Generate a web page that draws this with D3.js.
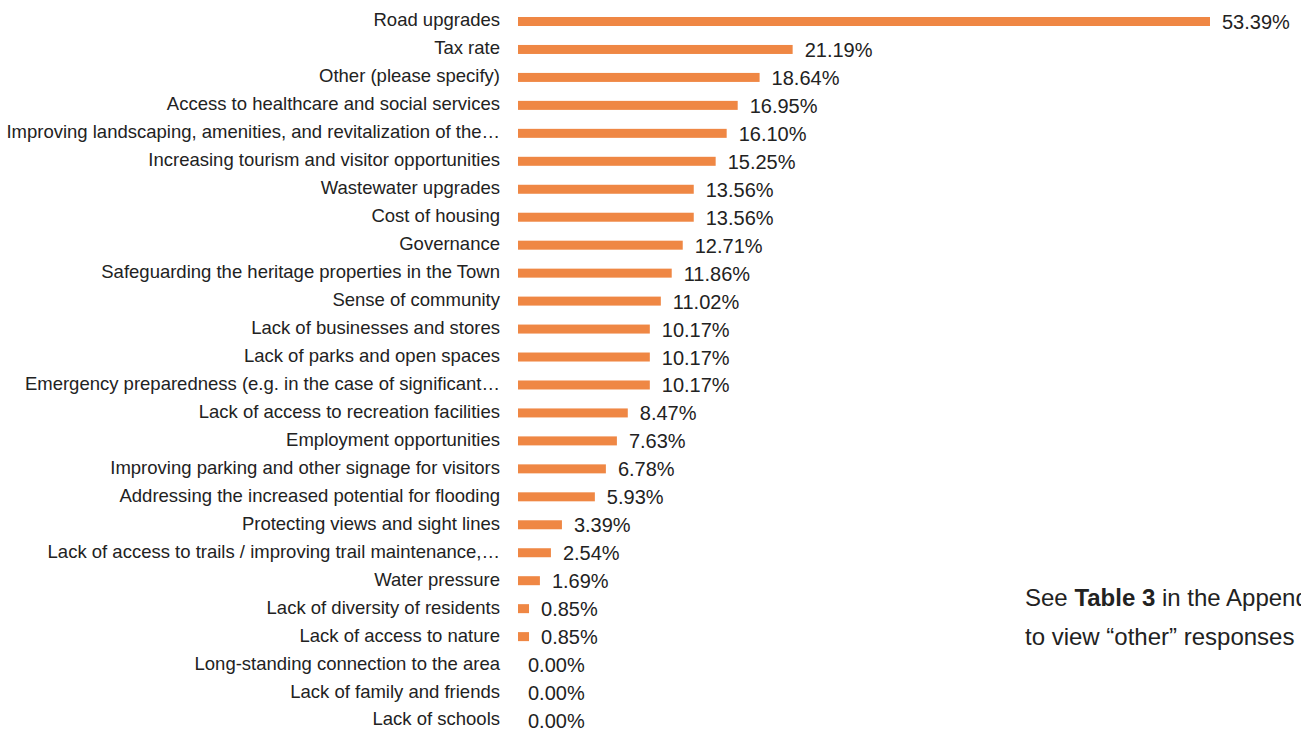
<!DOCTYPE html>
<html>
<head>
<meta charset="utf-8">
<script src="https://cdn.jsdelivr.net/npm/d3@7"></script>
<style>
  body { margin: 0; background: #fff; }
  svg { display: block; font-family: "Liberation Sans", Arial, sans-serif; }
</style>
</head>
<body>
<div id="chart"></div>
<script>
// Data
const categories = [
  "Road upgrades",
  "Tax rate",
  "Other (please specify)",
  "Access to healthcare and social services",
  "Improving landscaping, amenities, and revitalization of the…",
  "Increasing tourism and visitor opportunities",
  "Wastewater upgrades",
  "Cost of housing",
  "Governance",
  "Safeguarding the heritage properties in the Town",
  "Sense of community",
  "Lack of businesses and stores",
  "Lack of parks and open spaces",
  "Emergency preparedness (e.g. in the case of significant…",
  "Lack of access to recreation facilities",
  "Employment opportunities",
  "Improving parking and other signage for visitors",
  "Addressing the increased potential for flooding",
  "Protecting views and sight lines",
  "Lack of access to trails / improving trail maintenance,…",
  "Water pressure",
  "Lack of diversity of residents",
  "Lack of access to nature",
  "Long-standing connection to the area",
  "Lack of family and friends",
  "Lack of schools",
];
const values = [
  53.39, 21.19, 18.64, 16.95, 16.10, 15.25, 13.56, 13.56, 12.71, 11.86,
  11.02, 10.17, 10.17, 10.17, 8.47, 7.63, 6.78, 5.93, 3.39, 2.54,
  1.69, 0.85, 0.85, 0.00, 0.00, 0.00,
];
const noteLines = [
  [{ t: "See ", b: false }, { t: "Table 3", b: true }, { t: " in the Appendix", b: false }],
  [{ t: "to view \u201Cother\u201D responses", b: false }],
];

const data = categories.map((c, i) => ({ label: c, value: values[i] }));

// Dimensions
const width = 1301;
const height = 729;
const barX = 518;
const barH = 9;

const svg = d3.select("#chart").append("svg")
  .attr("width", width)
  .attr("height", height);

// Scales
const xScale = d3.scaleLinear()
  .domain([0, 53.39])
  .range([barX, 1210]);

const yScale = d3.scalePoint()
  .domain(categories)
  .range([21, 720]);

// Bars
svg.append("g")
  .selectAll("rect")
  .data(data)
  .join("rect")
  .attr("x", barX)
  .attr("y", (d) => yScale(d.label) - barH / 2 + 0.5)
  .attr("width", (d) => xScale(d.value) - barX)
  .attr("height", barH)
  .attr("fill", "#ef8744");

// Category labels
svg.append("g")
  .selectAll("text")
  .data(data)
  .join("text")
  .attr("x", 500)
  .attr("y", (d) => yScale(d.label) - 1)
  .attr("dy", "0.35em")
  .attr("text-anchor", "end")
  .attr("font-size", 18.5)
  .attr("fill", "#222")
  .text((d) => d.label);

// Value labels
svg.append("g")
  .selectAll("text")
  .data(data)
  .join("text")
  .attr("x", (d) => xScale(d.value) + (d.value > 0 ? 12 : 10))
  .attr("y", (d) => yScale(d.label) + 1)
  .attr("dy", "0.35em")
  .attr("font-size", 20)
  .attr("fill", "#222")
  .text((d) => d.value.toFixed(2) + "%");

// Note
const note = svg.append("text")
  .attr("x", 1025)
  .attr("y", 606)
  .attr("font-size", 24)
  .attr("fill", "#222");

noteLines.forEach((line, i) => {
  line.forEach((seg, j) => {
    const ts = note.append("tspan")
      .attr("font-weight", seg.b ? "bold" : "normal")
      .text(seg.t);
    if (j === 0) ts.attr("x", 1025).attr("dy", i === 0 ? 0 : 39);
  });
});
</script>
</body>
</html>
